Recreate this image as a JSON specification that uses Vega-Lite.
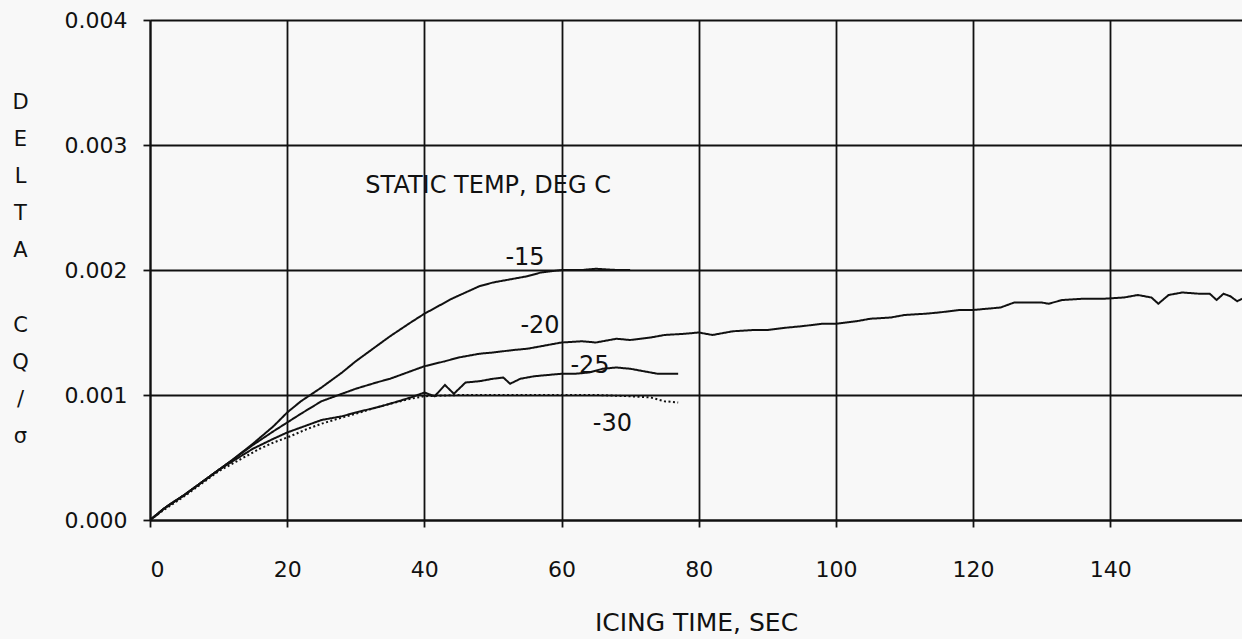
{
  "$schema": "https://vega.github.io/schema/vega-lite/v6.json",
  "width": 1092,
  "height": 500,
  "autosize": {"type": "none"},
  "padding": {"left": 150, "top": 20, "right": 0, "bottom": 119},
  "background": "#f8f8f8",
  "config": {
    "view": {"stroke": null},
    "font": "DejaVu Sans",
    "axis": {
      "domainColor": "#111",
      "domainWidth": 2,
      "gridColor": "#111",
      "gridWidth": 1.8,
      "gridOpacity": 1,
      "tickColor": "#111",
      "tickWidth": 1.8,
      "labelColor": "#111",
      "titleColor": "#111",
      "labelFont": "DejaVu Sans",
      "titleFont": "DejaVu Sans",
      "labelFontSize": 22,
      "titleFontSize": 25,
      "titleFontWeight": "normal"
    }
  },
  "layer": [
    {
      "data": {
        "values": [
          {"t": 0, "v": 0, "s": "-15"}, {"t": 1, "v": 0.00004, "s": "-15"}, {"t": 2, "v": 0.00009, "s": "-15"}, {"t": 3, "v": 0.00013, "s": "-15"}, {"t": 5, "v": 0.0002, "s": "-15"}, {"t": 7, "v": 0.00028, "s": "-15"}, {"t": 10, "v": 0.0004, "s": "-15"}, {"t": 12, "v": 0.00048, "s": "-15"}, {"t": 15, "v": 0.00061, "s": "-15"}, {"t": 18, "v": 0.00075, "s": "-15"}, {"t": 20, "v": 0.00086, "s": "-15"}, {"t": 22, "v": 0.00095, "s": "-15"}, {"t": 25, "v": 0.00106, "s": "-15"}, {"t": 28, "v": 0.00118, "s": "-15"}, {"t": 30, "v": 0.00127, "s": "-15"}, {"t": 33, "v": 0.00139, "s": "-15"}, {"t": 35, "v": 0.00147, "s": "-15"}, {"t": 38, "v": 0.00158, "s": "-15"}, {"t": 40, "v": 0.00165, "s": "-15"}, {"t": 42, "v": 0.00171, "s": "-15"}, {"t": 44, "v": 0.00177, "s": "-15"}, {"t": 46, "v": 0.00182, "s": "-15"}, {"t": 48, "v": 0.00187, "s": "-15"}, {"t": 50, "v": 0.0019, "s": "-15"}, {"t": 52, "v": 0.00192, "s": "-15"}, {"t": 55, "v": 0.00195, "s": "-15"}, {"t": 57, "v": 0.00198, "s": "-15"}, {"t": 60, "v": 0.002, "s": "-15"}, {"t": 63, "v": 0.002, "s": "-15"}, {"t": 65, "v": 0.00201, "s": "-15"}, {"t": 68, "v": 0.002, "s": "-15"}, {"t": 70, "v": 0.002, "s": "-15"},

          {"t": 0, "v": 0, "s": "-20"}, {"t": 2, "v": 0.00009, "s": "-20"}, {"t": 5, "v": 0.0002, "s": "-20"}, {"t": 10, "v": 0.0004, "s": "-20"}, {"t": 15, "v": 0.0006, "s": "-20"}, {"t": 18, "v": 0.00071, "s": "-20"}, {"t": 20, "v": 0.00078, "s": "-20"}, {"t": 22, "v": 0.00085, "s": "-20"}, {"t": 25, "v": 0.00095, "s": "-20"}, {"t": 28, "v": 0.00101, "s": "-20"}, {"t": 30, "v": 0.00105, "s": "-20"}, {"t": 33, "v": 0.0011, "s": "-20"}, {"t": 35, "v": 0.00113, "s": "-20"}, {"t": 38, "v": 0.00119, "s": "-20"}, {"t": 40, "v": 0.00123, "s": "-20"}, {"t": 43, "v": 0.00127, "s": "-20"}, {"t": 45, "v": 0.0013, "s": "-20"}, {"t": 48, "v": 0.00133, "s": "-20"}, {"t": 50, "v": 0.00134, "s": "-20"}, {"t": 53, "v": 0.00136, "s": "-20"}, {"t": 55, "v": 0.00137, "s": "-20"}, {"t": 58, "v": 0.0014, "s": "-20"}, {"t": 60, "v": 0.00142, "s": "-20"}, {"t": 63, "v": 0.00143, "s": "-20"}, {"t": 65, "v": 0.00142, "s": "-20"}, {"t": 68, "v": 0.00145, "s": "-20"}, {"t": 70, "v": 0.00144, "s": "-20"}, {"t": 73, "v": 0.00146, "s": "-20"}, {"t": 75, "v": 0.00148, "s": "-20"}, {"t": 78, "v": 0.00149, "s": "-20"}, {"t": 80, "v": 0.0015, "s": "-20"}, {"t": 82, "v": 0.00148, "s": "-20"}, {"t": 85, "v": 0.00151, "s": "-20"}, {"t": 88, "v": 0.00152, "s": "-20"}, {"t": 90, "v": 0.00152, "s": "-20"}, {"t": 93, "v": 0.00154, "s": "-20"}, {"t": 95, "v": 0.00155, "s": "-20"}, {"t": 98, "v": 0.00157, "s": "-20"}, {"t": 100, "v": 0.00157, "s": "-20"}, {"t": 103, "v": 0.00159, "s": "-20"}, {"t": 105, "v": 0.00161, "s": "-20"}, {"t": 108, "v": 0.00162, "s": "-20"}, {"t": 110, "v": 0.00164, "s": "-20"}, {"t": 113, "v": 0.00165, "s": "-20"}, {"t": 115, "v": 0.00166, "s": "-20"}, {"t": 118, "v": 0.00168, "s": "-20"}, {"t": 120, "v": 0.00168, "s": "-20"}, {"t": 122, "v": 0.00169, "s": "-20"}, {"t": 124, "v": 0.0017, "s": "-20"}, {"t": 126, "v": 0.00174, "s": "-20"}, {"t": 128, "v": 0.00174, "s": "-20"}, {"t": 130, "v": 0.00174, "s": "-20"}, {"t": 131, "v": 0.00173, "s": "-20"}, {"t": 133, "v": 0.00176, "s": "-20"}, {"t": 136, "v": 0.00177, "s": "-20"}, {"t": 139, "v": 0.00177, "s": "-20"}, {"t": 142, "v": 0.00178, "s": "-20"}, {"t": 144, "v": 0.0018, "s": "-20"}, {"t": 146, "v": 0.00178, "s": "-20"}, {"t": 147, "v": 0.00173, "s": "-20"}, {"t": 148.5, "v": 0.0018, "s": "-20"}, {"t": 150.5, "v": 0.00182, "s": "-20"}, {"t": 153, "v": 0.00181, "s": "-20"}, {"t": 154.5, "v": 0.00181, "s": "-20"}, {"t": 155.5, "v": 0.00176, "s": "-20"}, {"t": 156.5, "v": 0.00181, "s": "-20"}, {"t": 157.5, "v": 0.00179, "s": "-20"}, {"t": 158.5, "v": 0.00175, "s": "-20"}, {"t": 159.2, "v": 0.00177, "s": "-20"},

          {"t": 0, "v": 0, "s": "-25"}, {"t": 2, "v": 0.00009, "s": "-25"}, {"t": 5, "v": 0.0002, "s": "-25"}, {"t": 10, "v": 0.0004, "s": "-25"}, {"t": 15, "v": 0.00057, "s": "-25"}, {"t": 18, "v": 0.00065, "s": "-25"}, {"t": 20, "v": 0.0007, "s": "-25"}, {"t": 23, "v": 0.00076, "s": "-25"}, {"t": 25, "v": 0.0008, "s": "-25"}, {"t": 28, "v": 0.00083, "s": "-25"}, {"t": 30, "v": 0.00086, "s": "-25"}, {"t": 33, "v": 0.0009, "s": "-25"}, {"t": 35, "v": 0.00093, "s": "-25"}, {"t": 38, "v": 0.00098, "s": "-25"}, {"t": 40, "v": 0.00102, "s": "-25"}, {"t": 41.5, "v": 0.00099, "s": "-25"}, {"t": 43, "v": 0.00108, "s": "-25"}, {"t": 44.3, "v": 0.00101, "s": "-25"}, {"t": 46, "v": 0.0011, "s": "-25"}, {"t": 48, "v": 0.00111, "s": "-25"}, {"t": 50, "v": 0.00113, "s": "-25"}, {"t": 51.5, "v": 0.00114, "s": "-25"}, {"t": 52.5, "v": 0.00109, "s": "-25"}, {"t": 54, "v": 0.00113, "s": "-25"}, {"t": 56, "v": 0.00115, "s": "-25"}, {"t": 58, "v": 0.00116, "s": "-25"}, {"t": 60, "v": 0.00117, "s": "-25"}, {"t": 62, "v": 0.00117, "s": "-25"}, {"t": 64, "v": 0.00118, "s": "-25"}, {"t": 66, "v": 0.00121, "s": "-25"}, {"t": 68, "v": 0.00122, "s": "-25"}, {"t": 70, "v": 0.00121, "s": "-25"}, {"t": 72, "v": 0.00119, "s": "-25"}, {"t": 74, "v": 0.00117, "s": "-25"}, {"t": 77, "v": 0.00117, "s": "-25"},

          {"t": 0, "v": 0, "s": "-30"}, {"t": 2, "v": 0.00008, "s": "-30"}, {"t": 5, "v": 0.00019, "s": "-30"}, {"t": 10, "v": 0.00039, "s": "-30"}, {"t": 13, "v": 0.00048, "s": "-30"}, {"t": 16, "v": 0.00057, "s": "-30"}, {"t": 18, "v": 0.00062, "s": "-30"}, {"t": 20, "v": 0.00066, "s": "-30"}, {"t": 23, "v": 0.00073, "s": "-30"}, {"t": 25, "v": 0.00077, "s": "-30"}, {"t": 28, "v": 0.00082, "s": "-30"}, {"t": 30, "v": 0.00085, "s": "-30"}, {"t": 33, "v": 0.0009, "s": "-30"}, {"t": 35, "v": 0.00093, "s": "-30"}, {"t": 38, "v": 0.00097, "s": "-30"}, {"t": 40, "v": 0.00099, "s": "-30"}, {"t": 45, "v": 0.001, "s": "-30"}, {"t": 50, "v": 0.001, "s": "-30"}, {"t": 55, "v": 0.001, "s": "-30"}, {"t": 60, "v": 0.001, "s": "-30"}, {"t": 65, "v": 0.001, "s": "-30"}, {"t": 70, "v": 0.00099, "s": "-30"}, {"t": 73, "v": 0.00098, "s": "-30"}, {"t": 75, "v": 0.00095, "s": "-30"}, {"t": 77, "v": 0.00094, "s": "-30"}
        ]
      },
      "mark": {"type": "line", "color": "#111", "strokeWidth": 2, "clip": true},
      "encoding": {
        "x": {
          "field": "t", "type": "quantitative",
          "scale": {"domain": [0, 159.2], "nice": false, "zero": false},
          "axis": {
            "values": [0, 20, 40, 60, 80, 100, 120, 140],
            "title": "ICING TIME, SEC",
            "tickSize": 7,
            "labelPadding": 32,
            "titlePadding": 30
          }
        },
        "y": {
          "field": "v", "type": "quantitative",
          "scale": {"domain": [0, 0.004], "nice": false},
          "axis": {
            "values": [0, 0.001, 0.002, 0.003, 0.004],
            "format": ".3f",
            "tickSize": 7,
            "labelPadding": 16,
            "title": ["D", "E", "L", "T", "A", "\u2800", "C", "Q", "/", "σ"],
            "titleFontSize": 21,
            "titleAngle": 0,
            "titleAlign": "center",
            "titleBaseline": "middle",
            "titleLineHeight": 37.2,
            "titleX": -130,
            "titleY": 82
          }
        },
        "detail": {"field": "s"},
        "strokeDash": {
          "field": "s", "type": "nominal",
          "scale": {"domain": ["-15", "-20", "-25", "-30"], "range": [[1, 0], [1, 0], [1, 0], [2, 2.5]]},
          "legend": null
        }
      }
    },
    {
      "data": {
        "values": [
          {"t": 49.3, "v": 0.002672, "label": "STATIC TEMP, DEG C"},
          {"t": 54.67, "v": 0.0021, "label": "-15"},
          {"t": 56.86, "v": 0.00155, "label": "-20"},
          {"t": 64.15, "v": 0.00123, "label": "-25"},
          {"t": 67.4, "v": 0.000768, "label": "-30"}
        ]
      },
      "mark": {"type": "text", "fontSize": 24, "color": "#111", "baseline": "middle", "align": "center", "font": "DejaVu Sans"},
      "encoding": {
        "x": {"field": "t", "type": "quantitative"},
        "y": {"field": "v", "type": "quantitative"},
        "text": {"field": "label"}
      }
    }
  ]
}
